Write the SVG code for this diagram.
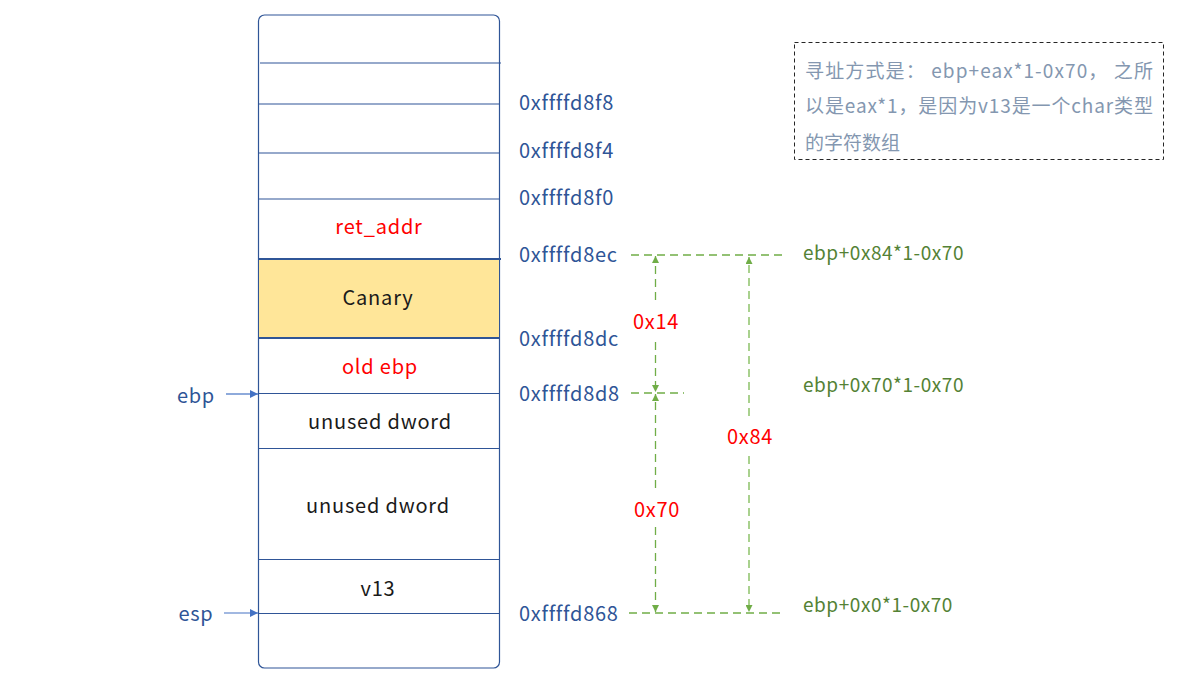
<svg xmlns="http://www.w3.org/2000/svg" width="1200" height="681" viewBox="0 0 1200 681">
<defs>
<style>
.t{font-family:"Noto Sans CJK SC","Liberation Sans",sans-serif;}
.addr{font-size:20px;fill:#2f5597;letter-spacing:0.7px;}
.cell{font-size:20px;text-anchor:middle;fill:#1a1a1a;letter-spacing:0.8px;}
.red{fill:#ff0000;}
.grn{font-size:19px;fill:#548235;letter-spacing:0.55px;}
.note{font-size:19px;fill:#8497b0;}
.sep{stroke:#2f5597;stroke-width:1.2;fill:none;}
.dash{stroke:#70ad47;stroke-width:1.3;stroke-dasharray:8,5;fill:none;}
.dashl{stroke:#a9d18e;stroke-width:2;stroke-dasharray:8,5;fill:none;}
</style>
<marker id="ag" viewBox="0 0 10 10" refX="10" refY="5" markerWidth="7" markerHeight="7" markerUnits="userSpaceOnUse" orient="auto-start-reverse"><path d="M0,0L10,5L0,10z" fill="#70ad47"/></marker>
<marker id="ab" viewBox="0 0 10 10" refX="10" refY="5" markerWidth="8" markerHeight="8" markerUnits="userSpaceOnUse" orient="auto"><path d="M0,0L10,5L0,10z" fill="#4472c4"/></marker>
</defs>
<rect width="1200" height="681" fill="#ffffff"/>

<g id="stack">
<rect x="258.5" y="15" width="241" height="653" rx="6" ry="6" fill="#ffffff" stroke="#2f5597" stroke-width="1.2"/>
<rect id="canary-fill" x="259" y="259" width="240" height="79" fill="#ffe699"/>
<line class="sep" x1="260" y1="63" x2="501" y2="63"/>
<line class="sep" x1="258" y1="104" x2="499" y2="104"/>
<line class="sep" x1="258" y1="153" x2="499" y2="153"/>
<line class="sep" x1="258" y1="199" x2="499" y2="199"/>
<line x1="258" y1="259" x2="501" y2="259" stroke="#2f5597" stroke-width="2"/>
<line x1="258" y1="338" x2="499" y2="338" stroke="#2f5597" stroke-width="2"/>
<line class="sep" x1="258" y1="393.5" x2="499" y2="393.5"/>
<line class="sep" x1="258" y1="448.5" x2="499" y2="448.5"/>
<line class="sep" x1="258" y1="559.5" x2="499" y2="559.5"/>
<line class="sep" x1="258" y1="613.5" x2="499" y2="613.5"/>
</g>

<g id="cell-ret"><text class="t cell red" x="379" y="234">ret_addr</text></g>
<g id="cell-canary"><text class="t cell" x="378" y="305">Canary</text></g>
<g id="cell-oldebp"><text class="t cell red" x="380" y="374">old ebp</text></g>
<g id="cell-unused1"><text class="t cell" x="380" y="429">unused dword</text></g>
<g id="cell-unused2"><text class="t cell" x="378" y="513">unused dword</text></g>
<g id="cell-v13"><text class="t cell" x="378" y="596">v13</text></g>

<g id="addresses">
<text class="t addr" x="519" y="110">0xffffd8f8</text>
<text class="t addr" x="519" y="158">0xffffd8f4</text>
<text class="t addr" x="519" y="205">0xffffd8f0</text>
<text class="t addr" x="519" y="262">0xffffd8ec</text>
<text class="t addr" x="519" y="346">0xffffd8dc</text>
<text class="t addr" x="519" y="401">0xffffd8d8</text>
<text class="t addr" x="519" y="621">0xffffd868</text>
</g>

<g id="ptr-ebp"><text class="t addr" x="196" y="403" text-anchor="middle">ebp</text></g>
<g id="ptr-esp"><text class="t addr" x="196" y="621" text-anchor="middle">esp</text></g>

<g id="expr-labels">
<text class="t grn" x="803" y="260">ebp+0x84*1-0x70</text>
<text class="t grn" x="803" y="392">ebp+0x70*1-0x70</text>
<text class="t grn" x="803" y="612">ebp+0x0*1-0x70</text>
</g>

<g id="connectors">
<line x1="226" y1="394" x2="258" y2="394" stroke="#4472c4" stroke-width="1.2" marker-end="url(#ab)"/>
<line x1="224" y1="613" x2="258" y2="613" stroke="#4472c4" stroke-width="1.2" marker-end="url(#ab)"/>
<line class="dash" x1="631" y1="255" x2="784" y2="255"/>
<line class="dash" x1="631" y1="393" x2="684" y2="393"/>
<line class="dash" x1="629" y1="613" x2="782" y2="613"/>
<line class="dash" x1="655.5" y1="300" x2="655.5" y2="256" marker-end="url(#ag)"/>
<line class="dash" x1="655.5" y1="342" x2="655.5" y2="392" marker-end="url(#ag)"/>
<line class="dash" x1="655.5" y1="488" x2="655.5" y2="394" marker-end="url(#ag)"/>
<line class="dash" x1="655.5" y1="527" x2="655.5" y2="612" marker-end="url(#ag)"/>
<line class="dashl" x1="749" y1="416" x2="749" y2="257" marker-end="url(#ag)"/>
<line class="dashl" x1="749" y1="456" x2="749" y2="612" marker-end="url(#ag)"/>
</g>

<g id="offset-labels">
<text class="t addr red" x="656" y="329" text-anchor="middle">0x14</text>
<text class="t addr red" x="657" y="517" text-anchor="middle">0x70</text>
<text class="t addr red" x="750" y="444" text-anchor="middle">0x84</text>
</g>

<g id="note">
<rect x="794.5" y="42.5" width="369" height="117" fill="#ffffff" stroke="#262626" stroke-width="1" stroke-dasharray="4,3"/>
<text class="t note" x="805" y="78" textLength="348" lengthAdjust="spacing">寻址方式是： ebp+eax*1-0x70， 之所</text>
<text class="t note" x="805" y="113" textLength="348" lengthAdjust="spacing">以是eax*1，是因为v13是一个char类型</text>
<text class="t note" x="805" y="150">的字符数组</text>
</g>
</svg>
